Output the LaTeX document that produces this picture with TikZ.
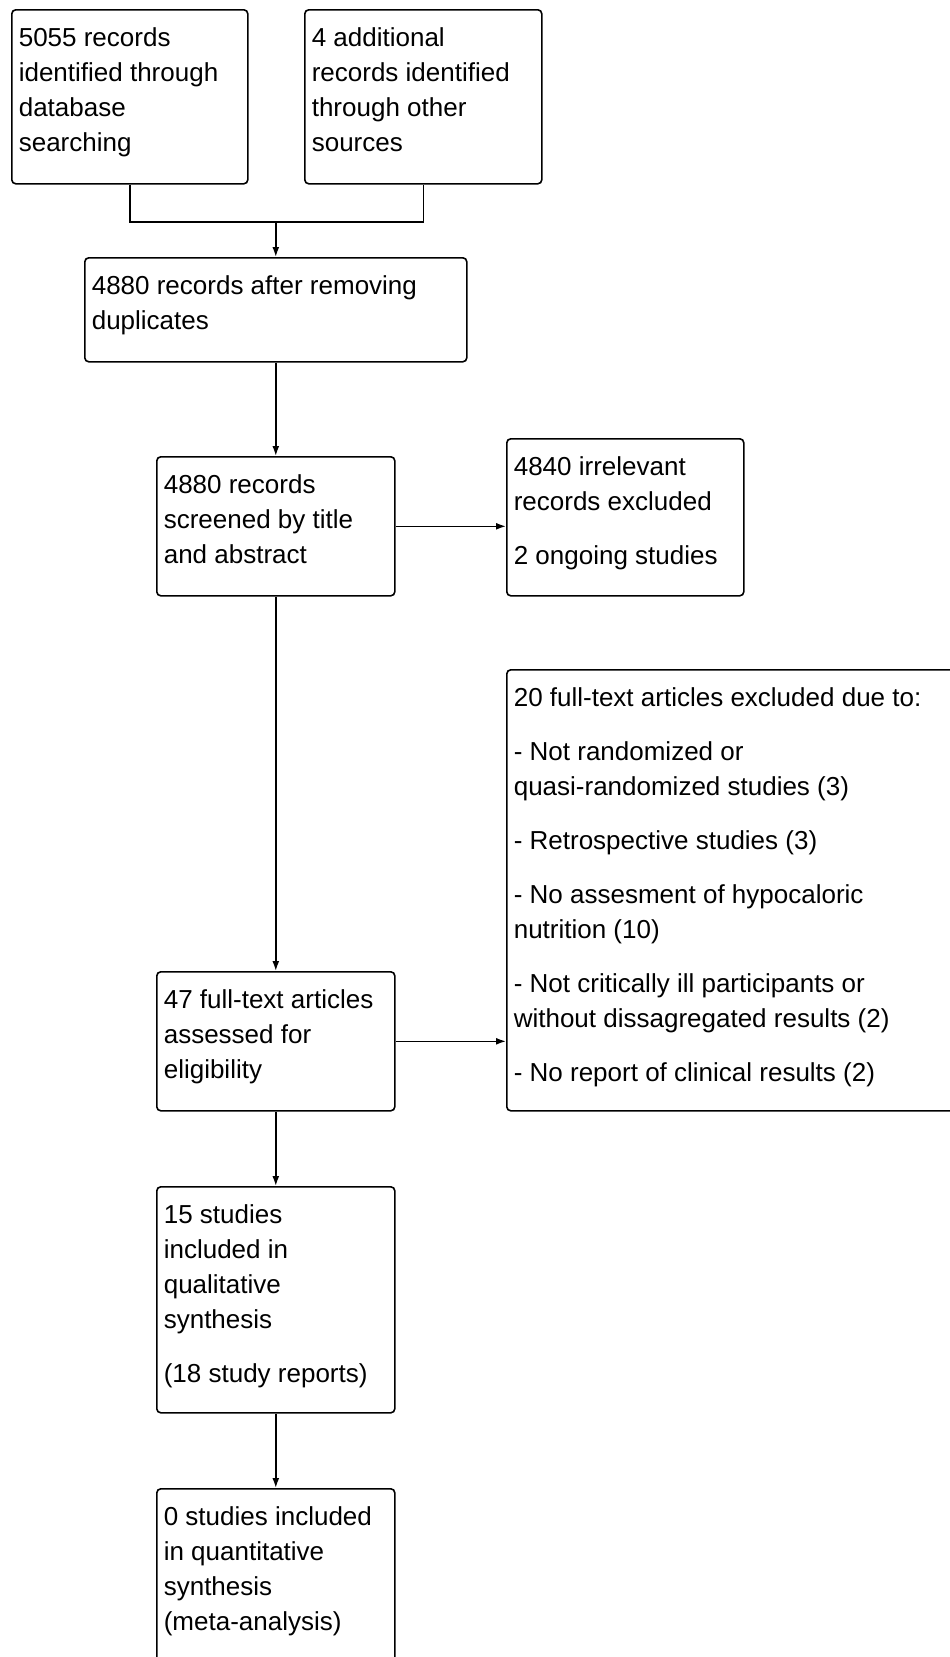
\documentclass[tikz,border=0pt]{standalone}
\usepackage{fontspec}
\setmainfont{Liberation Sans}
\usetikzlibrary{arrows.meta}
\newcommand{\boxtext}[3]{\begin{minipage}[t][#2][t]{#1}\fontsize{26}{35}\selectfont\raggedright\setlength{\parskip}{19pt}\rule{0pt}{37pt}#3\end{minipage}}
\begin{document}
\begin{tikzpicture}[x=1pt, y=-1pt, line width=1.6pt, >={Latex[length=10pt,width=7pt]},
  box/.style={draw, rounded corners=4pt, anchor=north west, inner xsep=7pt, inner ysep=0pt}]
\useasboundingbox (0,0) rectangle (950,1657);
\clip (0,0) rectangle (950,1657);
\node[box] (a) at (11,9) {\boxtext{222pt}{174pt}{5055 records\\identified through\\database\\searching}};
\node[box] (b) at (304,9) {\boxtext{223pt}{174pt}{4 additional\\records identified\\through other\\sources}};
\node[box] (c) at (84,257) {\boxtext{368pt}{104pt}{4880 records after removing\\duplicates}};
\node[box] (d) at (156,456) {\boxtext{224pt}{139pt}{4880 records\\screened by title\\and abstract}};
\node[box] (e) at (506,438) {\boxtext{223pt}{157pt}{4840 irrelevant\\records excluded\par 2 ongoing studies}};
\node[box] (f) at (506,669) {\boxtext{440pt}{441pt}{20 full-text articles excluded due to:\par - Not randomized or\\quasi-randomized studies (3)\par - Retrospective studies (3)\par - No assesment of hypocaloric\\nutrition (10)\par - Not critically ill participants or\\without dissagregated results (2)\par - No report of clinical results (2)}};
\node[box] (g) at (156,971) {\boxtext{224pt}{139pt}{47 full-text articles\\assessed for\\eligibility}};
\node[box] (h) at (156,1186) {\boxtext{224pt}{226pt}{15 studies\\included in\\qualitative\\synthesis\par (18 study reports)}};
\node[box] (i) at (156,1488) {\boxtext{224pt}{182pt}{0 studies included\\in quantitative\\synthesis\\(meta-analysis)}};
\coordinate (m) at (c.north |- 0,222);
\draw (a.south) |- (m) -| (b.south);
\draw[->] (m) -- (c.north);
\draw[->] (c) -- (d);
\draw[->] (d.east) -- (d.east -| e.west);
\draw[->] (d) -- (g);
\draw[->] (g.east) -- (g.east -| f.west);
\draw[->] (g) -- (h);
\draw[->] (h) -- (i);
\end{tikzpicture}
\end{document}
